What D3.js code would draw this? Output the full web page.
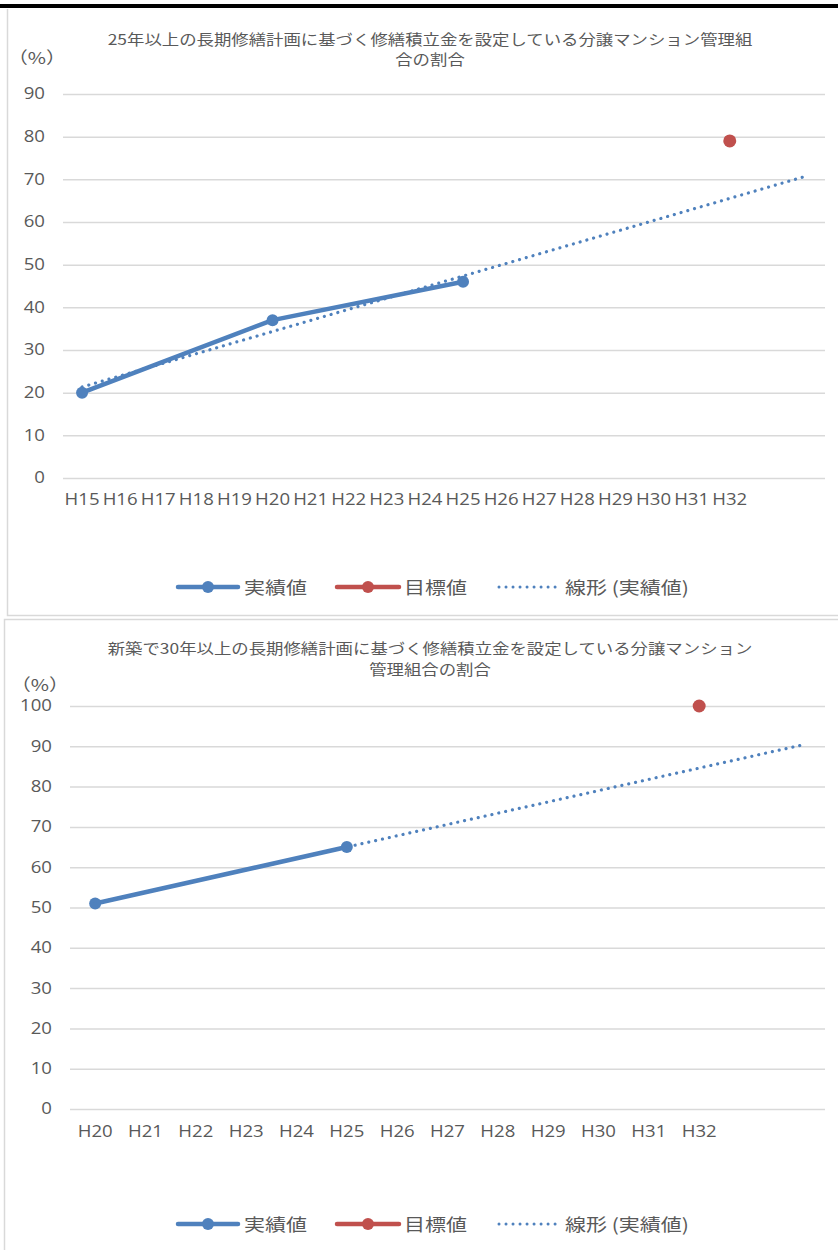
<!DOCTYPE html>
<html>
<head>
<meta charset="utf-8">
<script src="https://cdn.jsdelivr.net/npm/d3@7"></script>
<style>
  html, body { margin: 0; padding: 0; background: #fff; }
  svg { display: block; }
</style>
</head>
<body>
<svg id="page" width="838" height="1250"></svg>
<script>
// ---- data ----
// Chart 1: share of condominium associations with a 25+ year long-term repair plan
const title1 = ["25年以上の長期修繕計画に基づく修繕積立金を設定している分譲マンション管理組", "合の割合"];
const categories1 = ["H15","H16","H17","H18","H19","H20","H21","H22","H23","H24","H25","H26","H27","H28","H29","H30","H31","H32","",""];
const actualCats1 = ["H15", "H20", "H25"];
const actualVals1 = [20, 37, 46];
const targetCats1 = ["H32"];
const targetVals1 = [79];
const yTicks1 = [0,10,20,30,40,50,60,70,80,90];

// Chart 2: share of new-build associations with a 30+ year long-term repair plan
const title2 = ["新築で30年以上の長期修繕計画に基づく修繕積立金を設定している分譲マンション", "管理組合の割合"];
const categories2 = ["H20","H21","H22","H23","H24","H25","H26","H27","H28","H29","H30","H31","H32","",""];
const actualCats2 = ["H20", "H25"];
const actualVals2 = [51, 65];
const targetCats2 = ["H32"];
const targetVals2 = [100];
const yTicks2 = [0,10,20,30,40,50,60,70,80,90,100];

const legendLabels = ["実績値", "目標値", "線形 (実績値)"];
const unitLabel = "（%）";

// ---- styling ----
const BLUE = "#4f81bd", RED = "#c0504d", GRID = "#d9d9d9", TEXT = "#595959";
const SX = 1.2; // horizontal text stretch
const LATIN = "'Open Sans', 'Noto Sans', sans-serif";
const CJK = "'Noto Sans CJK JP', 'Noto Sans', sans-serif";

const svg = d3.select("#page");

function label(g, x, y, str, size, family, anchor) {
  return g.append("text")
    .attr("transform", `translate(${x},${y}) scale(${SX},1)`)
    .attr("text-anchor", anchor || "start")
    .attr("dominant-baseline", "central")
    .attr("fill", TEXT)
    .style("font-family", family)
    .style("font-size", size + "px")
    .text(str);
}

function stretchTicks(sel) {
  sel.each(function () {
    const t = d3.select(this);
    const x = +t.attr("x") || 0, y = +t.attr("y") || 0;
    t.attr("x", 0).attr("y", 0).attr("transform", `translate(${x},${y}) scale(${SX},1)`);
  });
}

// least-squares line over category positions
function linearFit(xs, ys) {
  const n = xs.length;
  const mx = d3.mean(xs), my = d3.mean(ys);
  let sxy = 0, sxx = 0;
  for (let i = 0; i < n; i++) { sxy += (xs[i] - mx) * (ys[i] - my); sxx += (xs[i] - mx) ** 2; }
  const slope = sxy / sxx;
  return x => my + slope * (x - mx);
}

function drawChart(cfg) {
  const g = svg.append("g");

  // frame
  g.append("path")
    .attr("d", cfg.frame)
    .attr("fill", "none").attr("stroke", GRID).attr("stroke-width", 1.5);

  const idx = d3.range(cfg.categories.length);
  const x = d3.scaleBand().domain(idx).range([cfg.left, cfg.right]);
  const cx = i => x(i) + x.bandwidth() / 2;
  const y = d3.scaleLinear().domain([0, d3.max(cfg.yTicks)]).range([cfg.bottom, cfg.top]);

  // gridlines + y labels
  const ya = g.append("g")
    .attr("transform", `translate(${cfg.left},0)`)
    .call(d3.axisLeft(y).tickValues(cfg.yTicks).tickSize(-(cfg.right - cfg.left)).tickPadding(18).tickFormat(d3.format("d")));
  ya.select(".domain").remove();
  ya.selectAll(".tick line").attr("stroke", GRID).attr("stroke-width", 1.5);
  ya.selectAll(".tick text").attr("fill", TEXT).style("font-family", LATIN).style("font-size", "15.5px").call(stretchTicks);

  // x labels
  const xa = g.append("g")
    .attr("transform", `translate(0,${cfg.bottom})`)
    .call(d3.axisBottom(x).tickSize(0).tickPadding(cfg.xPad).tickFormat(i => cfg.categories[i]));
  xa.select(".domain").remove();
  xa.selectAll(".tick text").attr("fill", TEXT).style("font-family", LATIN).style("font-size", "15.5px").call(stretchTicks);

  // title and unit
  cfg.title.forEach((t, i) => label(g, cfg.titleX, cfg.titleY + i * cfg.titleLH, t, 14.5, CJK, "middle"));
  label(g, cfg.unitX, cfg.unitY, unitLabel, 16.5, CJK, "start");

  // series data
  const actIdx = cfg.actualCats.map(c => cfg.categories.indexOf(c));
  const actual = actIdx.map((i, k) => ({ i, v: cfg.actualVals[k] }));
  const target = cfg.targetCats.map((c, k) => ({ i: cfg.categories.indexOf(c), v: cfg.targetVals[k] }));

  const line = d3.line().x(d => cx(d.i)).y(d => y(d.v));

  // actual line + markers
  g.append("path").datum(actual).attr("d", line)
    .attr("fill", "none").attr("stroke", BLUE).attr("stroke-width", 4.5).attr("stroke-linejoin", "round").attr("stroke-linecap", "round");
  g.selectAll(".act").data(actual).join("circle")
    .attr("cx", d => cx(d.i)).attr("cy", d => y(d.v)).attr("r", 6).attr("fill", BLUE);

  // target markers
  g.selectAll(".tgt").data(target).join("circle")
    .attr("cx", d => cx(d.i)).attr("cy", d => y(d.v)).attr("r", 6.5).attr("fill", RED);

  // linear trend of the actual series, spanning all category slots
  const fit = linearFit(actual.map(d => d.i), actual.map(d => d.v));
  const trend = [0, idx.length - 1].map(i => ({ i, v: fit(i) }));
  g.append("path").datum(trend).attr("d", line)
    .attr("fill", "none").attr("stroke", BLUE).attr("stroke-width", 3.2)
    .attr("stroke-linecap", "round").attr("stroke-dasharray", "0.01 7");

  // legend
  const ly = cfg.legendY;
  const lg = g.append("g");
  const items = [
    { x0: 178, x1: 238, color: BLUE, marker: true, dash: null, tx: 244 },
    { x0: 337, x1: 399, color: RED, marker: true, dash: null, tx: 404 },
    { x0: 499, x1: 560, color: BLUE, marker: false, dash: "0.01 7", tx: 565 }
  ];
  items.forEach((it, k) => {
    lg.append("line").attr("x1", it.x0).attr("x2", it.x1).attr("y1", ly).attr("y2", ly)
      .attr("stroke", it.color).attr("stroke-width", it.dash ? 3 : 4.5)
      .attr("stroke-linecap", "round").attr("stroke-dasharray", it.dash);
    if (it.marker) lg.append("circle").attr("cx", (it.x0 + it.x1) / 2).attr("cy", ly).attr("r", 6).attr("fill", it.color);
    label(lg, it.tx, ly, legendLabels[k], 17.5, CJK, "start");
  });
}

// heavy rule along the top edge
svg.append("rect").attr("x", 0).attr("y", 4).attr("width", 838).attr("height", 4).attr("fill", "#000");

drawChart({
  frame: "M7.5,9 V615.5 H838",
  categories: categories1, actualCats: actualCats1, actualVals: actualVals1,
  targetCats: targetCats1, targetVals: targetVals1, yTicks: yTicks1,
  left: 63, right: 825, top: 94, bottom: 478, xPad: 16,
  title: title1, titleX: 430, titleY: 39, titleLH: 20,
  unitX: 8, unitY: 57, legendY: 587
});

drawChart({
  frame: "M4.5,1250 V619.5 H838",
  categories: categories2, actualCats: actualCats2, actualVals: actualVals2,
  targetCats: targetCats2, targetVals: targetVals2, yTicks: yTicks2,
  left: 70, right: 825, top: 706, bottom: 1109, xPad: 17,
  title: title2, titleX: 430, titleY: 648, titleLH: 21,
  unitX: 11, unitY: 684, legendY: 1224
});
</script>
</body>
</html>
